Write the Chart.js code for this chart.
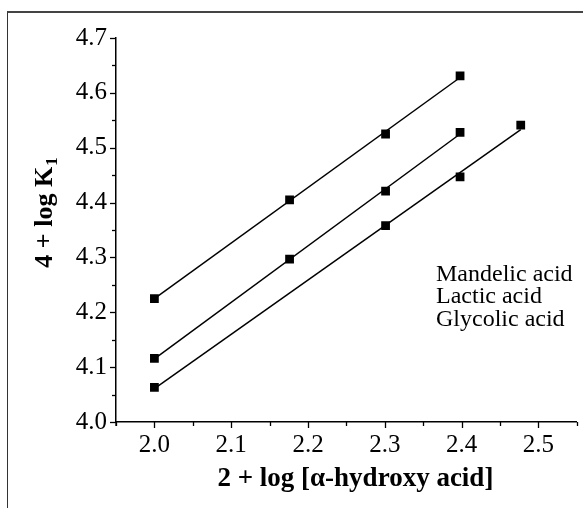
<!DOCTYPE html>
<html>
<head>
<meta charset="utf-8">
<script src="https://cdn.jsdelivr.net/npm/chart.js@4/dist/chart.umd.min.js"></script>
<style>
    body { margin: 0; background: #fff; }
    #wrap { position: relative; width: 583px; height: 508px; overflow: hidden; }
    #frame {
        position: absolute; left: 7px; top: 11px; width: 620px; height: 540px;
        border-left: 1.5px solid #333; border-top: 2px solid #444;
    }
    #chart { position: absolute; left: 0; top: 0; }
</style>
</head>
<body>
<div id="wrap">
    <div id="frame"></div>
    <canvas id="chart" width="583" height="508"></canvas>
</div>
<script>
// datos
const xMandelic = [2.0, 2.176, 2.301, 2.398];
const yMandelic = [4.225, 4.405, 4.525, 4.631];

const xLactic = [2.0, 2.176, 2.301, 2.398];
const yLactic = [4.116, 4.297, 4.421, 4.528];

const xGlycolic = [2.0, 2.301, 2.398, 2.477];
const yGlycolic = [4.063, 4.358, 4.447, 4.541];

// rectas de ajuste (extremos leídos)
const fitXMandelic = [2.0, 2.398];
const fitYMandelic = [4.225, 4.628];
const fitXLactic = [2.0, 2.398];
const fitYLactic = [4.115, 4.525];
const fitXGlycolic = [2.0, 2.477];
const fitYGlycolic = [4.061, 4.533];

const seriesNames = ["Mandelic acid", "Lactic acid", "Glycolic acid"];
const xTitle = "2 + log [\u03b1-hydroxy acid]";

const SERIF = "'Liberation Serif', 'Times New Roman', serif";

const pts = (xs, ys) => xs.map((x, i) => ({ x: x, y: ys[i] }));
const isMajor = v => Math.round(v * 100) % 10 === 0;

// plugin: marcas de los ejes (mayores y menores)
const axisTicks = {
    id: "axisTicks",
    afterDraw(chart) {
        const { ctx, chartArea: { left, bottom }, scales: { x, y } } = chart;
        ctx.save();
        ctx.strokeStyle = "#000";
        ctx.lineWidth = 1.3;
        x.ticks.forEach(t => {
            const px = Math.round(x.getPixelForValue(t.value)) + 0.5;
            const len = isMajor(t.value) ? 6 : 4;
            ctx.beginPath();
            ctx.moveTo(px, bottom);
            ctx.lineTo(px, bottom + len);
            ctx.stroke();
        });
        y.ticks.forEach(t => {
            const py = Math.round(y.getPixelForValue(t.value)) + 0.5;
            const len = isMajor(t.value) ? 6 : 4;
            ctx.beginPath();
            ctx.moveTo(left, py);
            ctx.lineTo(left - len, py);
            ctx.stroke();
        });
        // pequeña prolongación del eje y bajo el origen
        ctx.beginPath();
        ctx.moveTo(left, bottom);
        ctx.lineTo(left, bottom + 4);
        ctx.stroke();
        ctx.restore();
    }
};

// plugin: títulos de ejes y leyenda de texto
const texts = {
    id: "texts",
    afterDraw(chart) {
        const { ctx, chartArea: { left, right, top, bottom } } = chart;
        ctx.save();
        ctx.fillStyle = "#000";

        // título eje x
        ctx.font = "bold 27px " + SERIF;
        ctx.textAlign = "center";
        ctx.textBaseline = "alphabetic";
        ctx.fillText(xTitle, (left + right) / 2 + 9, bottom + 64);

        // título eje y con subíndice
        ctx.font = "bold 26px " + SERIF;
        ctx.translate(left - 64, (top + bottom) / 2 - 17);
        ctx.rotate(-Math.PI / 2);
        const main = "4 + log K";
        const wMain = ctx.measureText(main).width;
        ctx.font = "bold 17px " + SERIF;
        const wSub = ctx.measureText("1").width;
        const start = -(wMain + wSub) / 2;
        ctx.font = "bold 26px " + SERIF;
        ctx.textAlign = "left";
        ctx.fillText(main, start, 0);
        ctx.font = "bold 17px " + SERIF;
        ctx.fillText("1", start + wMain + 1, 5);
        ctx.restore();

        // leyenda
        ctx.save();
        ctx.fillStyle = "#000";
        ctx.font = "24px " + SERIF;
        ctx.textAlign = "left";
        ctx.textBaseline = "alphabetic";
        seriesNames.forEach((s, i) => {
            ctx.fillText(s, left + 320, top + 243 + i * 22.3);
        });
        ctx.restore();
    }
};

const markerStyle = {
    showLine: false,
    pointStyle: "rect",
    pointRadius: 6.2,
    pointHoverRadius: 6.2,
    backgroundColor: "#000",
    borderColor: "#000",
    borderWidth: 0
};

const lineStyle = {
    showLine: true,
    pointRadius: 0,
    borderColor: "#000",
    borderWidth: 1.5,
    fill: false
};

new Chart(document.getElementById("chart"), {
    type: "scatter",
    data: {
        datasets: [
            { label: seriesNames[0], data: pts(xMandelic, yMandelic), ...markerStyle },
            { label: seriesNames[1], data: pts(xLactic, yLactic), ...markerStyle },
            { label: seriesNames[2], data: pts(xGlycolic, yGlycolic), ...markerStyle },
            { label: "fit1", data: pts(fitXMandelic, fitYMandelic), ...lineStyle },
            { label: "fit2", data: pts(fitXLactic, fitYLactic), ...lineStyle },
            { label: "fit3", data: pts(fitXGlycolic, fitYGlycolic), ...lineStyle }
        ]
    },
    options: {
        responsive: false,
        animation: false,
        devicePixelRatio: 1,
        layout: { padding: { top: 38, right: 0, left: 0, bottom: 0 } },
        plugins: {
            legend: { display: false },
            tooltip: { enabled: false }
        },
        scales: {
            x: {
                type: "linear",
                min: 1.95,
                max: 2.55,
                afterFit(s) { s.height = 86; },
                grid: { display: false },
                border: { display: true, color: "#000", width: 1.5 },
                ticks: {
                    stepSize: 0.05,
                    autoSkip: false,
                    maxRotation: 0,
                    padding: 0,
                    color: "#000",
                    font: { family: SERIF, size: 25 },
                    callback: v => isMajor(v) ? v.toFixed(1) : ""
                }
            },
            y: {
                type: "linear",
                min: 4.0,
                max: 4.7,
                afterFit(s) { s.width = 116; },
                grid: { display: false },
                border: { display: true, color: "#000", width: 1.5 },
                ticks: {
                    stepSize: 0.05,
                    autoSkip: false,
                    padding: 1,
                    color: "#000",
                    font: { family: SERIF, size: 25 },
                    callback: v => isMajor(v) ? v.toFixed(1) : ""
                }
            }
        }
    },
    plugins: [axisTicks, texts]
});
</script>
</body>
</html>
